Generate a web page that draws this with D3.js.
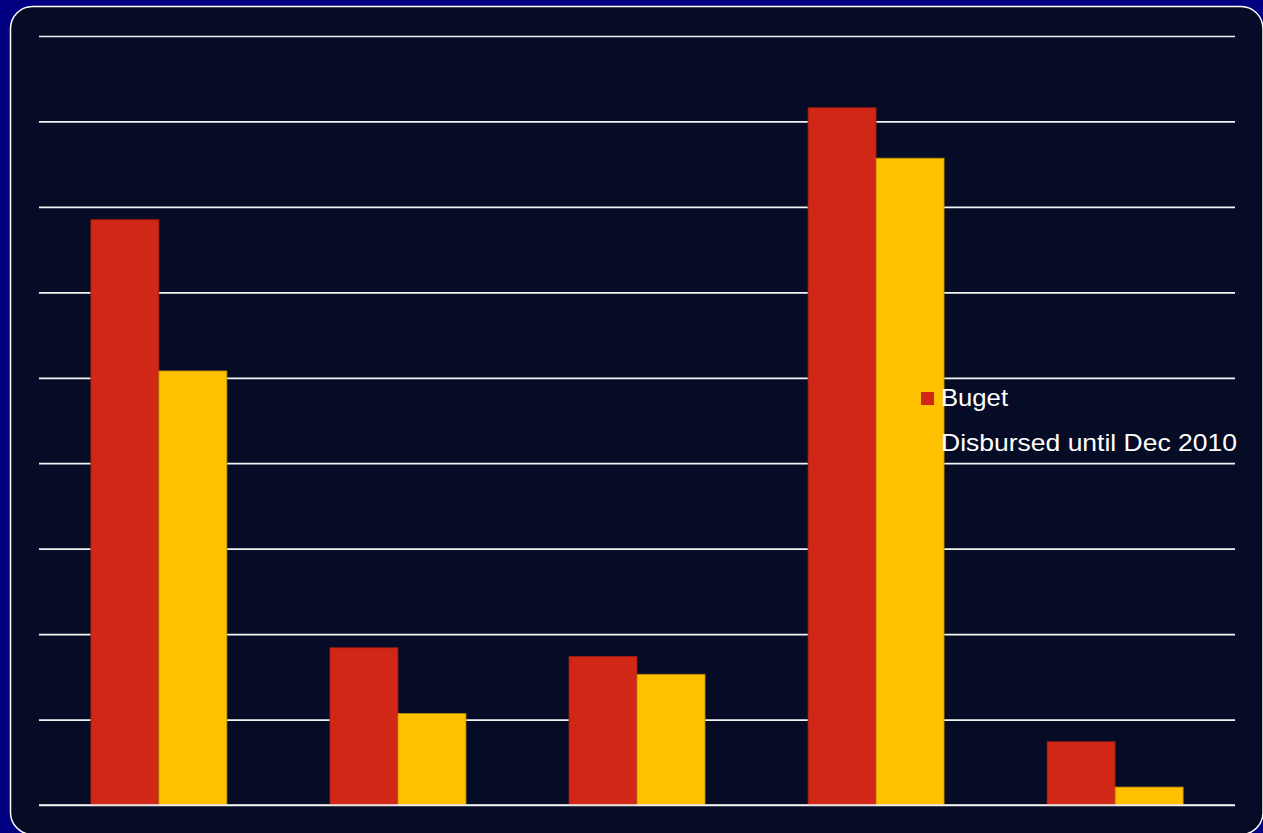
<!DOCTYPE html>
<html>
<head>
<meta charset="utf-8">
<script src="https://cdn.jsdelivr.net/npm/d3@7"></script>
<style>
html,body{margin:0;padding:0;background:#000080;overflow:hidden;}
svg{display:block;}
</style>
</head>
<body>
<svg id="chart" width="1263" height="833"></svg>
<script>
const categories = ["A", "B", "C", "D", "E"];
const seriesNames = ["Buget", "Disbursed until Dec 2010"];
const budget = [68.5, 18.4, 17.4, 81.6, 7.4];
const disbursed = [50.8, 10.7, 15.3, 75.7, 2.1];
const yTicks = [0, 10, 20, 30, 40, 50, 60, 70, 80, 90];

const svg = d3.select("#chart");
const W = 1263, H = 833;

svg.append("rect").attr("width", W).attr("height", H).attr("fill", "#000080");
svg.append("rect")
  .attr("x", 10.5).attr("y", 6.5).attr("width", 1252.5).attr("height", 828)
  .attr("rx", 22).attr("ry", 22)
  .attr("fill", "#070c26").attr("stroke", "#ffffff").attr("stroke-width", 1.5);

const plotL = 39, plotR = 1235, plotT = 36, plotB = 805;

const x0 = d3.scaleBand().domain(categories).range([plotL, plotR]).paddingInner(0.431).paddingOuter(0.217);
const x1 = d3.scaleBand().domain(seriesNames).range([0, x0.bandwidth()]);
const y = d3.scaleLinear().domain([0, 90]).range([plotB, plotT]);
const color = d3.scaleOrdinal().domain(seriesNames).range(["#d12717", "#ffc000"]);
const strokeCol = d3.scaleOrdinal().domain(seriesNames).range(["#9a1c12", "#b88a00"]);

// gridlines via axis
const grid = svg.append("g")
  .attr("transform", `translate(${plotL},0)`)
  .call(d3.axisLeft(y).tickValues(yTicks).tickSize(-(plotR - plotL)).tickFormat(""));
grid.select(".domain").remove();
grid.selectAll(".tick line").attr("stroke", "#f4f4f4").attr("stroke-width", 1.7);

const data = categories.map((c, i) => ({cat: c, vals: [
  {s: seriesNames[0], v: budget[i]},
  {s: seriesNames[1], v: disbursed[i]}
]}));

const groups = svg.append("g").selectAll("g").data(data).join("g")
  .attr("transform", d => `translate(${x0(d.cat)},0)`);
groups.selectAll("rect").data(d => d.vals).join("rect")
  .attr("x", d => x1(d.s))
  .attr("y", d => y(d.v))
  .attr("width", x1.bandwidth())
  .attr("height", d => y(0) - y(d.v))
  .attr("fill", d => color(d.s))
  .attr("stroke", d => strokeCol(d.s))
  .attr("stroke-width", 0.8);

// baseline
svg.append("line").attr("x1", plotL).attr("x2", plotR).attr("y1", y(0)).attr("y2", y(0))
  .attr("stroke", "#f4f4f4").attr("stroke-width", 1.7);

// legend
const legend = svg.append("g").attr("transform", "translate(921,0)");
const rows = legend.selectAll("g").data(seriesNames).join("g")
  .attr("transform", (d, i) => `translate(0,${392 + i * 45})`);
rows.append("rect").attr("width", 13).attr("height", 13).attr("fill", d => color(d));
rows.append("text")
  .attr("x", 20).attr("y", 14)
  .attr("fill", "#ffffff")
  .attr("font-family", "Liberation Sans, Arial, sans-serif")
  .attr("font-size", 24)
  .attr("textLength", (d, i) => i === 0 ? 67 : 296)
  .attr("lengthAdjust", "spacingAndGlyphs")
  .text(d => d);
</script>
</body>
</html>
